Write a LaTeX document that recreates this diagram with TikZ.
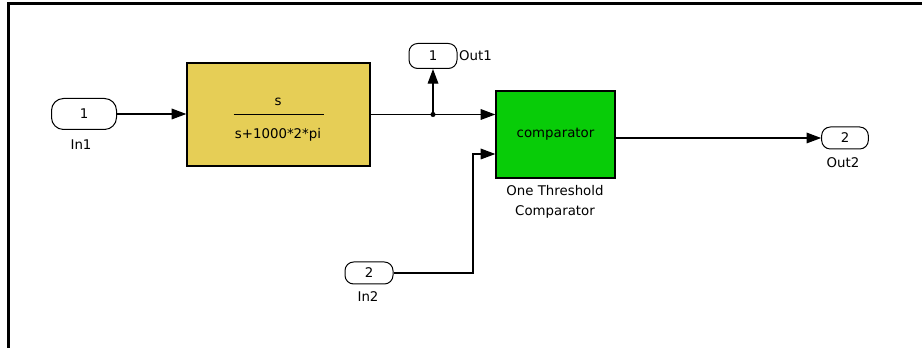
\documentclass[tikz,border=0pt]{standalone}
\usepackage{fontspec}
\setmainfont{DejaVu Sans}
\usepackage{tikz}
\usetikzlibrary{arrows.meta}
\usetikzlibrary{calc}
\definecolor{tfyellow}{RGB}{230,206,86}
\definecolor{cmpgreen}{RGB}{8,204,8}

\begin{document}
\begin{tikzpicture}[x=0.75pt,y=-0.75pt,
    every node/.style={font=\fontsize{10}{12}\selectfont},
    port/.style={draw, line width=0.75pt, rounded corners=6.5pt, inner sep=0pt},
    blk/.style={draw, line width=1pt, inner sep=0pt},
    sig/.style={line width=0.9pt, -{Triangle[length=11pt,width=8pt]}},
    lbl/.style={inner sep=0pt}]
        \useasboundingbox (0,0) rectangle (922,348);
        \draw [line width=2.25pt] (922,4) -- (8.5,4) -- (8.5,348);

        \node [port, rounded corners=9pt, minimum width=48.75pt, minimum height=23.25pt](in1) at (84,114){1};
        \node [port, minimum width=36pt, minimum height=18.75pt](out1) at (433,56){1};
        \node [port, minimum width=36pt, minimum height=16.5pt](in2) at (369,273){2};
        \node [port, minimum width=35pt, minimum height=16.5pt](out2) at (845,138){2};

        \node [blk, fill=tfyellow, minimum width=137.25pt, minimum height=77.25pt](tf) at (278.5,114.5){};
        \node [blk, fill=cmpgreen, minimum width=89.25pt, minimum height=65.25pt](cmp) at (555.5,134.5){comparator};

        \node [lbl](num) at (278,102){s};
        \node [lbl](den) at (278,135){s+1000*2*pi};
        \draw [line width=0.75pt] ($(tf.center)+(-45,0)$) -- ($(tf.center)+(45,0)$);

        \node [lbl](in1lbl) at (81,145){In1};
        \node [lbl, anchor=west](out1lbl) at ([xshift=1pt]out1.east){Out1};
        \node [lbl](in2lbl) at (368,297){In2};
        \node [lbl](out2lbl) at (843,163){Out2};
        \node [lbl, align=center, font=\fontsize{10}{15}\selectfont](cmplbl) at (555,202){One Threshold\\Comparator};

        \coordinate (br) at (out1 |- tf.east);
        \coordinate (in2b) at (473,154);

        \draw [sig] (in1.east) -- (tf.west |- in1.east);
        \draw [line width=0.9pt] (tf.east) -- (br);
        \draw [sig] (br) -- (cmp.west |- br);
        \draw [sig] (br) -- (out1.south);
        \fill (br) circle (1.9pt);
        \draw [sig] (in2.east) -| (in2b) -- (cmp.west |- in2b);
        \draw [sig] (cmp.east |- out2.west) -- (out2.west);
      \end{tikzpicture}
\end{document}
